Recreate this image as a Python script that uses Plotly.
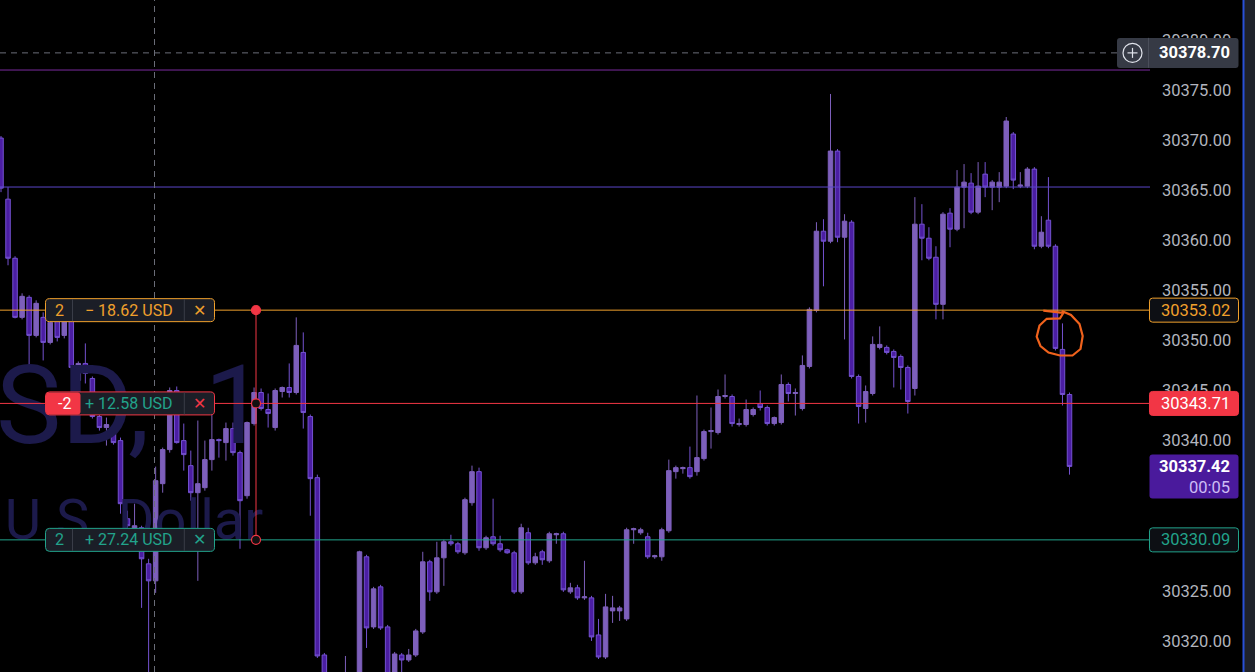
import plotly.graph_objects as go

# ---------------- data ----------------
opens = [30370.2, 30364.1, 30358.2, 30352.3, 30354.3, 30350.5, 30352.3, 30349.8, 30352.3, 30350.5,
         30352.3, 30346.0, 30347.7, 30346.2, 30342.4, 30341.3, 30341.3, 30340.0, 30332.2, 30331.0,
         30331.3, 30327.7, 30326.0, 30335.7, 30339.1, 30345.0, 30340.0, 30337.5, 30334.8, 30335.3,
         30338.1, 30340.1, 30339.8, 30341.2, 30338.8, 30334.5, 30341.7, 30344.8, 30343.1, 30341.3,
         30344.9, 30345.3, 30344.8, 30348.8, 30342.4, 30336.3, 30318.6, 30314.0, 30313.0, 30314.5,
         30315.5, 30314.0, 30328.4, 30321.4, 30325.4, 30321.4, 30315.8, 30318.6, 30318.1, 30318.6,
         30320.9, 30327.9, 30324.9, 30328.3, 30329.9, 30329.7, 30328.8, 30333.8, 30336.9, 30329.3,
         30330.4, 30329.7, 30329.1, 30328.8, 30324.9, 30330.8, 30327.8, 30328.9, 30328.0, 30330.6,
         30330.7, 30324.9, 30325.3, 30324.3, 30324.3, 30320.6, 30318.4, 30323.0, 30323.0, 30322.2,
         30331.1, 30330.8, 30330.4, 30328.4, 30328.4, 30331.0, 30336.9, 30337.2, 30337.3, 30336.9,
         30338.2, 30340.9, 30340.8, 30344.4, 30344.4, 30341.6, 30341.6, 30342.6, 30343.7, 30343.3,
         30341.7, 30341.8, 30345.6, 30344.7, 30343.2, 30347.4, 30353.0, 30360.9, 30359.9, 30368.9,
         30360.3, 30361.8, 30346.4, 30343.2, 30344.7, 30349.3, 30349.3, 30348.9, 30348.4, 30347.3,
         30345.2, 30361.6, 30360.2, 30358.3, 30353.6, 30362.7, 30361.1, 30365.3, 30365.7, 30362.8,
         30366.6, 30365.3, 30365.3, 30365.4, 30370.6, 30365.4, 30365.4, 30367.1, 30359.4, 30362.0,
         30359.4, 30349.1, 30344.6]
highs = [30370.4, 30365.3, 30358.4, 30354.7, 30354.5, 30354.0, 30352.8, 30352.2, 30352.9, 30352.4,
         30352.7, 30347.9, 30349.7, 30346.4, 30342.6, 30342.3, 30341.6, 30340.3, 30333.0, 30333.7,
         30331.5, 30328.2, 30337.4, 30339.3, 30345.3, 30345.4, 30341.7, 30339.0, 30342.0, 30340.0,
         30344.7, 30340.2, 30341.8, 30341.8, 30339.0, 30341.9, 30345.3, 30345.2, 30344.7, 30345.2,
         30345.4, 30347.7, 30352.3, 30350.8, 30342.6, 30336.6, 30318.8, 30316.0, 30315.5, 30318.5,
         30316.5, 30329.0, 30328.6, 30325.4, 30325.6, 30321.6, 30318.9, 30318.8, 30319.2, 30321.2,
         30328.9, 30328.1, 30329.9, 30330.1, 30330.6, 30329.9, 30334.3, 30337.5, 30337.3, 30330.5,
         30334.2, 30330.5, 30329.2, 30329.0, 30331.7, 30331.3, 30328.8, 30329.1, 30330.9, 30330.8,
         30330.9, 30325.8, 30325.6, 30328.0, 30324.5, 30322.2, 30324.7, 30324.5, 30323.5, 30331.3,
         30331.3, 30331.3, 30330.8, 30328.6, 30331.3, 30338.1, 30337.5, 30337.4, 30339.4, 30344.5,
         30341.1, 30343.3, 30345.1, 30346.6, 30344.6, 30342.2, 30344.1, 30343.3, 30345.0, 30343.5,
         30342.4, 30346.6, 30345.8, 30345.2, 30348.5, 30353.3, 30361.8, 30362.1, 30374.6, 30369.1,
         30362.6, 30362.0, 30346.6, 30345.5, 30350.4, 30351.4, 30349.5, 30349.1, 30348.6, 30347.5,
         30364.3, 30363.6, 30361.3, 30359.4, 30362.8, 30363.2, 30367.0, 30367.6, 30366.7, 30367.8,
         30367.8, 30366.0, 30366.8, 30372.3, 30370.8, 30366.8, 30367.3, 30367.3, 30362.4, 30366.3,
         30359.6, 30351.7, 30344.8]
lows = [30364.8, 30357.5, 30352.2, 30352.1, 30347.5, 30350.3, 30348.0, 30349.6, 30349.9, 30350.2,
        30347.1, 30345.8, 30345.7, 30342.2, 30341.0, 30339.5, 30339.6, 30332.7, 30331.3, 30330.8,
        30323.3, 30316.0, 30324.8, 30334.8, 30338.8, 30339.7, 30337.0, 30334.0, 30326.0, 30335.0,
        30337.0, 30338.3, 30338.0, 30338.5, 30329.2, 30334.2, 30341.5, 30343.0, 30341.3, 30341.0,
        30344.3, 30344.3, 30344.6, 30341.2, 30332.5, 30318.3, 30313.0, 30311.5, 30311.0, 30312.5,
        30312.0, 30313.0, 30319.3, 30321.2, 30321.1, 30315.0, 30315.0, 30316.5, 30317.9, 30318.4,
        30320.7, 30324.0, 30324.7, 30325.5, 30329.5, 30328.7, 30328.6, 30333.5, 30329.0, 30329.1,
        30329.5, 30328.9, 30328.7, 30324.7, 30324.7, 30327.6, 30327.6, 30327.6, 30327.8, 30329.7,
        30324.9, 30324.7, 30324.1, 30324.1, 30320.0, 30318.2, 30318.2, 30321.8, 30322.0, 30322.0,
        30329.7, 30330.6, 30328.2, 30328.2, 30328.0, 30330.8, 30336.2, 30336.7, 30336.2, 30336.5,
        30338.0, 30339.2, 30340.6, 30344.2, 30341.4, 30341.4, 30341.4, 30342.4, 30343.0, 30341.5,
        30341.5, 30341.6, 30343.9, 30342.5, 30343.0, 30347.2, 30352.8, 30355.4, 30359.7, 30359.8,
        30350.1, 30346.2, 30341.7, 30341.8, 30344.5, 30349.1, 30348.6, 30345.3, 30345.1, 30342.7,
        30344.5, 30358.0, 30358.0, 30352.1, 30352.1, 30359.3, 30360.9, 30361.2, 30362.6, 30362.6,
        30364.3, 30363.0, 30363.8, 30365.2, 30365.1, 30365.2, 30365.2, 30359.1, 30359.2, 30359.2,
        30349.0, 30343.5, 30336.6]
closes = [30365.2, 30358.2, 30352.3, 30354.4, 30350.5, 30353.7, 30349.8, 30351.8, 30350.3, 30352.0,
          30347.3, 30347.7, 30346.7, 30342.4, 30341.3, 30341.6, 30339.8, 30333.7, 30331.5, 30331.5,
          30328.2, 30326.0, 30336.0, 30339.1, 30345.0, 30339.8, 30338.6, 30334.8, 30335.7, 30338.1,
          30340.1, 30340.0, 30341.2, 30338.8, 30334.0, 30341.8, 30344.8, 30343.2, 30342.7, 30345.0,
          30345.3, 30344.8, 30349.5, 30342.8, 30336.2, 30318.5, 30314.0, 30313.0, 30314.5, 30315.5,
          30313.5, 30328.9, 30321.3, 30325.2, 30321.3, 30315.8, 30318.7, 30318.1, 30318.6, 30321.0,
          30327.9, 30324.9, 30328.3, 30329.9, 30329.7, 30328.9, 30334.1, 30336.9, 30329.3, 30330.3,
          30329.7, 30329.1, 30328.8, 30324.9, 30331.3, 30327.8, 30328.4, 30328.1, 30330.7, 30330.7,
          30325.1, 30325.3, 30324.3, 30324.4, 30320.4, 30318.4, 30323.4, 30323.3, 30323.3, 30331.1,
          30331.2, 30331.1, 30328.4, 30328.5, 30331.1, 30337.0, 30337.3, 30337.3, 30336.4, 30338.3,
          30340.9, 30341.0, 30344.4, 30344.5, 30341.7, 30341.7, 30343.1, 30343.1, 30343.3, 30341.7,
          30342.3, 30345.6, 30344.7, 30344.8, 30347.5, 30353.1, 30360.9, 30359.9, 30368.9, 30360.3,
          30361.9, 30346.4, 30343.4, 30344.9, 30349.6, 30349.6, 30348.8, 30348.3, 30347.3, 30343.9,
          30361.6, 30360.2, 30358.2, 30353.6, 30362.6, 30361.1, 30365.3, 30365.8, 30362.8, 30365.4,
          30365.3, 30365.8, 30365.8, 30371.9, 30366.0, 30365.5, 30367.1, 30359.4, 30360.8, 30359.4,
          30349.2, 30344.6, 30337.42]
bars = list(range(len(closes)))

y_ticks = [30320, 30325, 30330, 30335, 30340, 30345, 30350, 30355, 30360, 30365, 30370, 30375, 30380]

# horizontal drawings / order lines
line_prices = [30376.99, 30365.31]
line_colors = ["#7a2b9e", "#5a46c8"]
order_prices = [30353.02, 30343.71, 30330.09]
order_qty = ["2", "-2", "2"]
order_pnl = ["\u2212 18.62 USD", "+ 12.58 USD", "+ 27.24 USD"]
order_labels = ["30353.02", "30343.71", "30330.09"]
crosshair_price = 30378.70
last_price = 30337.42
countdown = "00:05"
watermark = ["USD,\u00a0\u00a01", "U.S.\u00a0Dollar"]

# ---------------- geometry / style ----------------
W, H = 1255, 672
PW = 1150  # plot area width in px
Y0, Y1 = 30316.9, 30383.98
ORANGE, RED, TEAL = "#f0a02c", "#f23645", "#22a38b"
BOXBG = "#1b1e27"
FONT = "Roboto"


def px(x):  # pixel x -> paper
    return x / PW


def py(y):  # pixel y -> paper
    return 1 - y / H


def price_px(p):
    return (Y1 - p) * H / (Y1 - Y0)


def rrect(x0, y0, x1, y1, r=3):
    """rounded rectangle path (pixel coords in, paper coords out)"""
    def P(a, b):
        return f"{px(a):.6f},{py(b):.6f}"
    s = "M " + P(x0 + r, y0)
    s += " L " + P(x1 - r, y0) + " Q " + P(x1, y0) + " " + P(x1, y0 + r)
    s += " L " + P(x1, y1 - r) + " Q " + P(x1, y1) + " " + P(x1 - r, y1)
    s += " L " + P(x0 + r, y1) + " Q " + P(x0, y1) + " " + P(x0, y1 - r)
    s += " L " + P(x0, y0 + r) + " Q " + P(x0, y0) + " " + P(x0 + r, y0) + " Z"
    return s


fig = go.Figure()

# watermark (behind candles)
fig.add_trace(go.Scatter(x=[37.7], y=[30342.5], mode="text", text=[watermark[0]],
                         textposition="middle left",
                         textfont=dict(family=FONT, size=110, color="#1c1a4b"),
                         hoverinfo="skip", showlegend=False))
fig.add_trace(go.Scatter(x=[37.3], y=[30331.6], mode="text", text=[watermark[1]],
                         textposition="middle left",
                         textfont=dict(family=FONT, size=56, color="#1c1a4b"),
                         hoverinfo="skip", showlegend=False))

fig.add_trace(go.Candlestick(
    x=bars, open=opens, high=highs, low=lows, close=closes,
    increasing=dict(line=dict(color="#7d5fbb", width=1), fillcolor="#7d5fbb"),
    decreasing=dict(line=dict(color="#7452d0", width=1), fillcolor="#4b1ea3"),
    whiskerwidth=0, hoverinfo="skip", showlegend=False))

shapes = []
# thin drawing lines
for p, c in zip(line_prices, line_colors):
    shapes.append(dict(type="line", xref="paper", yref="y", x0=0, x1=1, y0=p, y1=p,
                       line=dict(color=c, width=1)))
# order lines
for p, c in zip(order_prices, [ORANGE, RED, TEAL]):
    shapes.append(dict(type="line", xref="paper", yref="y", x0=0, x1=1, y0=p, y1=p,
                       line=dict(color=c, width=1)))

# crosshair
shapes.append(dict(type="line", xref="paper", yref="y", x0=0, x1=px(1117), y0=crosshair_price,
                   y1=crosshair_price, line=dict(color="#6a6d78", width=1, dash="6px,5px")))
shapes.append(dict(type="line", xref="paper", yref="paper", x0=px(154.5), x1=px(154.5), y0=0, y1=1,
                   line=dict(color="#6a6d78", width=1, dash="6px,5px")))

# position tool (vertical connector + handles)
tool_x = px(256)
shapes.append(dict(type="line", xref="paper", yref="y", x0=tool_x, x1=tool_x,
                   y0=order_prices[0], y1=order_prices[2], line=dict(color=RED, width=1)))
for p, fill in zip(order_prices, [RED, "#111111", "#111111"]):
    shapes.append(dict(type="circle", xref="paper", yref="y", xsizemode="pixel", ysizemode="pixel",
                       xanchor=tool_x, yanchor=p, x0=-4.5, x1=4.5, y0=-4.5, y1=4.5,
                       fillcolor=fill, line=dict(color=RED, width=1.2)))

annotations = []
# left order labels
for k, (p, c) in enumerate(zip(order_prices, [ORANGE, RED, TEAL])):
    yc = price_px(p)
    shapes.append(dict(type="path", xref="paper", yref="paper",
                       path=rrect(45.5, yc - 11.5, 214.5, yc + 11.5, 4),
                       fillcolor=BOXBG, line=dict(color=c, width=1)))
    if k == 1:
        shapes.append(dict(type="path", xref="paper", yref="paper",
                           path=rrect(46, yc - 11, 80.5, yc + 11, 3),
                           fillcolor=RED, line=dict(width=0)))
    else:
        shapes.append(dict(type="line", xref="paper", yref="y", ysizemode="pixel", yanchor=p,
                           x0=px(72.5), x1=px(72.5), y0=-11, y1=11,
                           line=dict(color="#3a3d48", width=1)))
    shapes.append(dict(type="line", xref="paper", yref="y", ysizemode="pixel", yanchor=p,
                       x0=px(184.3), x1=px(184.3), y0=-11, y1=11,
                       line=dict(color="#3a3d48", width=1)))
    qc = "#ffffff" if k == 1 else c
    annotations.append(dict(xref="paper", yref="y", x=px(64 if k == 1 else 59), y=p, text=order_qty[k],
                            showarrow=False, xanchor="center", yanchor="middle",
                            font=dict(family=FONT, size=16, color=qc)))
    pc = TEAL if k == 1 else c
    annotations.append(dict(xref="paper", yref="y", x=px(128.5), y=p, text=order_pnl[k],
                            showarrow=False, xanchor="center", yanchor="middle",
                            font=dict(family=FONT, size=16, color=pc)))
    annotations.append(dict(xref="paper", yref="y", x=px(199.5), y=p, text="\u2715",
                            showarrow=False, xanchor="center", yanchor="middle",
                            font=dict(family="DejaVu Sans", size=16, color=c)))

# right price labels
for k, (p, c) in enumerate(zip(order_prices, [ORANGE, RED, TEAL])):
    yc = price_px(p)
    if k == 1:
        shapes.append(dict(type="path", xref="paper", yref="paper",
                           path=rrect(1149.5, yc - 12, 1238.5, yc + 12, 3),
                           fillcolor=RED, line=dict(color=RED, width=1)))
        tc = "#ffffff"
    else:
        shapes.append(dict(type="path", xref="paper", yref="paper",
                           path=rrect(1149.5, yc - 12, 1238.5, yc + 12, 3),
                           fillcolor="#0d0f14", line=dict(color=c, width=1)))
        tc = c
    annotations.append(dict(xref="paper", yref="y", x=px(1232), y=p, text=order_labels[k],
                            showarrow=False, xanchor="right", yanchor="middle",
                            font=dict(family=FONT, size=16.5, color=tc)))

# last price + countdown
yc = price_px(last_price)
shapes.append(dict(type="path", xref="paper", yref="paper",
                   path=rrect(1149.5, yc - 12, 1238.5, yc + 32, 3),
                   fillcolor="#4a1a9c", line=dict(width=0)))
annotations.append(dict(xref="paper", yref="y", x=px(1232), y=last_price, text=f"<b>{last_price:.2f}</b>",
                        showarrow=False, xanchor="right", yanchor="middle",
                        font=dict(family=FONT, size=16.5, color="#ffffff")))
annotations.append(dict(xref="paper", yref="y", x=px(1232), y=last_price, yshift=-21, text=countdown,
                        showarrow=False, xanchor="right", yanchor="middle",
                        font=dict(family=FONT, size=16.5, color="#cdbdf5")))

# crosshair price label with plus button
yc = price_px(crosshair_price)
shapes.append(dict(type="path", xref="paper", yref="paper",
                   path=rrect(1117, yc - 15, 1238.5, yc + 15, 3),
                   fillcolor="#363a45", line=dict(width=0)))
shapes.append(dict(type="line", xref="paper", yref="y", ysizemode="pixel", yanchor=crosshair_price,
                   x0=px(1148.5), x1=px(1148.5), y0=-15, y1=15, line=dict(color="#4a4e5a", width=1)))
shapes.append(dict(type="circle", xref="paper", yref="y", xsizemode="pixel", ysizemode="pixel",
                   xanchor=px(1132.5), yanchor=crosshair_price, x0=-9.5, x1=9.5, y0=-9.5, y1=9.5,
                   line=dict(color="#e0e3eb", width=1.2)))
shapes.append(dict(type="line", xref="paper", yref="y", xsizemode="pixel", ysizemode="pixel",
                   xanchor=px(1132.5), yanchor=crosshair_price, x0=-5, x1=5, y0=0, y1=0,
                   line=dict(color="#e0e3eb", width=1.2)))
shapes.append(dict(type="line", xref="paper", yref="y", xsizemode="pixel", ysizemode="pixel",
                   xanchor=px(1132.5), yanchor=crosshair_price, x0=0, x1=0, y0=-5, y1=5,
                   line=dict(color="#e0e3eb", width=1.2)))
annotations.append(dict(xref="paper", yref="y", x=px(1232), y=crosshair_price,
                        text=f"<b>{crosshair_price:.2f}</b>",
                        showarrow=False, xanchor="right", yanchor="middle",
                        font=dict(family=FONT, size=16.5, color="#ffffff")))

# hand-drawn orange loop
loop = [(1043.3, 310.7), (1063.3, 313.0), (1060, 318.3), (1046.7, 318.8), (1039.5, 325.5),
        (1036.7, 336.7), (1040.5, 346.0), (1048.5, 352.5), (1060, 355.5), (1072.5, 355.5),
        (1080.5, 349.0), (1082.7, 336.0), (1079.5, 324.0), (1071.0, 315.0), (1061.7, 311.0)]
path = "M " + " L ".join(f"{px(a):.5f},{py(b):.5f}" for a, b in loop)
shapes.append(dict(type="path", xref="paper", yref="paper", path=path,
                   line=dict(color="#f0621c", width=2.2)))

# right window edge
shapes.append(dict(type="rect", xref="paper", yref="paper", x0=px(1244), x1=px(1256), y0=0, y1=1,
                   fillcolor="#1f222b", line=dict(width=0)))
shapes.append(dict(type="line", xref="paper", yref="paper", x0=px(1243.5), x1=px(1243.5), y0=0, y1=1,
                   line=dict(color="#2950d8", width=2)))

fig.update_layout(
    width=W, height=H,
    margin=dict(l=0, r=W - PW, t=0, b=0),
    paper_bgcolor="#000000", plot_bgcolor="#000000",
    showlegend=False, hovermode=False,
    boxgap=0.36, boxgroupgap=0,
    shapes=shapes, annotations=annotations,
    xaxis=dict(range=[-0.142, 163.45], visible=False, showgrid=False, zeroline=False,
               rangeslider=dict(visible=False), fixedrange=True),
    yaxis=dict(range=[Y0, Y1], side="right", tickvals=y_ticks,
               ticktext=[f"{v:.2f}" for v in y_ticks], showgrid=False, zeroline=False,
               ticks="", ticklabelstandoff=11, showline=False,
               tickfont=dict(family=FONT, size=16.5, color="#b2b5be"), fixedrange=True),
)

fig.write_html("out.html", config={"displayModeBar": False},
               post_script="document.body.style.margin='0px';document.body.style.background='#000';")
